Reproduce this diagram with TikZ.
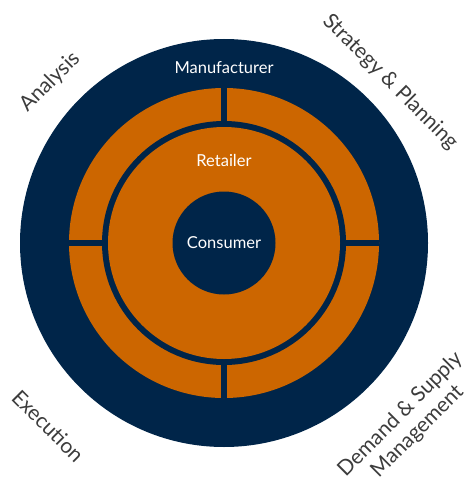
\documentclass[tikz,border=0pt]{standalone}
\usepackage{fontspec}
\setmainfont{Lato}
\definecolor{navy}{RGB}{0,37,73}
\definecolor{rust}{RGB}{204,102,0}
\definecolor{ink}{RGB}{60,60,60}
\tikzset{
	disc/.style={circle, inner sep=0pt, draw=none},
	ringtext/.style={text=white, font=\fontsize{16.5}{19}\selectfont},
	sidetext/.style={text=ink, font=\fontsize{21}{24}\selectfont, align=center},
	gap/.style={draw=navy, line width=5.5pt}
}
\begin{document}
\begin{tikzpicture}[x=1pt, y=-1pt]
				\useasboundingbox (0,0) rectangle (474,500);
				\coordinate (C) at (224, 243);
				\node[disc, fill=navy, minimum size=408pt] (outer) at (C) {};
				\node[disc, fill=rust, minimum size=310pt] (band) at (C) {};
				\node[disc, fill=navy, minimum size=244pt] (rim) at (C) {};
				\node[disc, fill=rust, minimum size=232pt] (inner) at (C) {};
				\node[disc, fill=navy, minimum size=103pt, ringtext] (core) at (C) {Consumer};
				\draw[gap] (rim.north) -- (band.north);
				\draw[gap] (rim.south) -- (band.south);
				\draw[gap] (rim.west) -- (band.west);
				\draw[gap] (rim.east) -- (band.east);
				\node[ringtext] (maker) at (224, 68) {Manufacturer};
				\node[ringtext] (shop) at (224, 160) {Retailer};
				\node[sidetext, rotate=45] (analysis) at (50, 82) {Analysis};
				\node[sidetext, rotate=-45] (strategy) at (390, 82) {Strategy \& Planning};
				\node[sidetext, rotate=-45] (execution) at (48, 426) {Execution};
				\node[sidetext, rotate=45] (demand) at (409, 423) {Demand \& Supply\\Management};
			\end{tikzpicture}
\end{document}
